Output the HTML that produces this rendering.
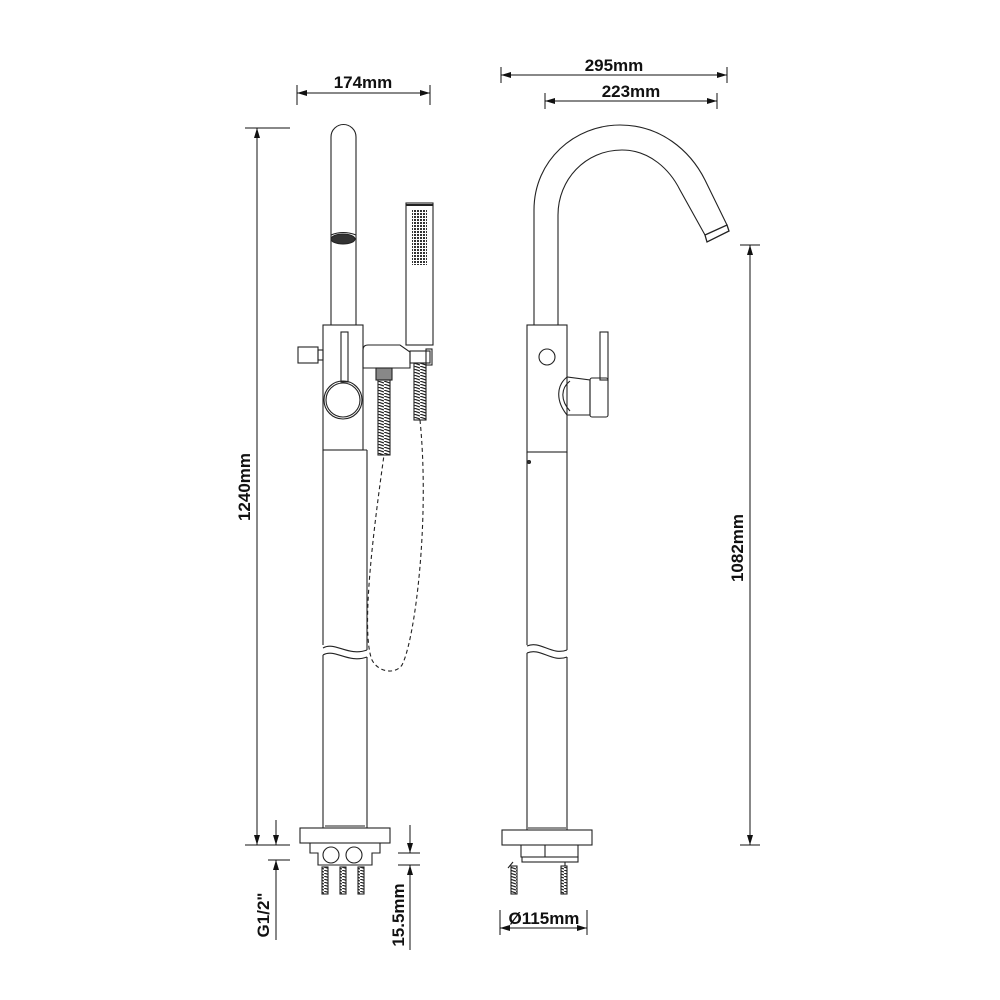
<!DOCTYPE html>
<html><head><meta charset="utf-8"><style>
html,body{margin:0;padding:0;background:#fff}
svg{display:block}
text{font-family:"Liberation Sans",Arial,sans-serif;font-size:17px;fill:#111;font-weight:600}
</style></head><body>
<svg width="1000" height="1000" viewBox="0 0 1000 1000" xmlns="http://www.w3.org/2000/svg">
<defs>
<marker id="a" viewBox="0 0 10 6" refX="10" refY="3" markerWidth="10" markerHeight="6" orient="auto-start-reverse" markerUnits="userSpaceOnUse"><path d="M0,0 L10,3 L0,6Z" fill="#111"/></marker>
<pattern id="dots" width="3" height="3" patternUnits="userSpaceOnUse"><rect width="2" height="2" fill="#333"/></pattern>
<pattern id="thr" width="6" height="3" patternUnits="userSpaceOnUse"><path d="M0,0 L6,2" stroke="#222" stroke-width="1.2"/></pattern>
</defs>
<g fill="none" stroke="#222" stroke-width="1.1">
<!-- LEFT VIEW -->
<path d="M331,325 V137 A12.5,12.5 0 0 1 356,137 V325"/>
<ellipse cx="343" cy="239" rx="12" ry="5" fill="#333"/>
<path d="M331,235 Q343,230 356,235"/>
<rect x="323" y="325" width="40" height="125"/>
<rect x="298" y="347" width="20" height="16"/><rect x="318" y="350" width="5" height="10"/>
<rect x="341" y="332" width="7" height="50"/>
<circle cx="343" cy="400" r="19"/><circle cx="343" cy="400" r="17"/>
<rect x="406" y="203" width="27" height="142"/><line x1="406" y1="205" x2="433" y2="205" stroke-width="2"/>
<rect x="412" y="210" width="15" height="55" fill="url(#dots)" stroke="none"/>
<path d="M363,350 Q363,345 368,345 H400 L410,352 V368 H363Z"/>
<rect x="410" y="351" width="20" height="12"/><rect x="426" y="349" width="6" height="16"/>
<rect x="376" y="368" width="16" height="12" fill="#888"/>
<rect x="378" y="380" width="12" height="75" fill="url(#thr)"/>
<rect x="414" y="363" width="12" height="57" fill="url(#thr)"/>
<path d="M420,420 C430,520 415,640 402,665 C395,675 378,672 372,660 C360,630 375,520 384,455" stroke-dasharray="4,3"/>
<path d="M323,450 H367 M323,450 V645 M367,450 V650 M323,648 C335,641 348,657 367,650 M323,655 C335,648 348,664 367,657 M323,655 V828 M367,657 V828"/>
<line x1="325" y1="826" x2="365" y2="826"/>
<rect x="300" y="828" width="90" height="15"/>
<path d="M310,843 V853 H318 V865 H372 V853 H380 V843"/>
<circle cx="331" cy="855" r="8"/><circle cx="354" cy="855" r="8"/>
<g fill="url(#thr)"><rect x="322" y="867" width="6" height="27"/><rect x="340" y="867" width="6" height="27"/><rect x="358" y="867" width="6" height="27"/></g>
<!-- RIGHT VIEW -->
<path d="M534,325 V210 C534,160 575,125 620,125 C660,125 690,150 705,180 L727,225"/>
<path d="M558,325 V215 C558,180 585,150 622,150 C650,150 670,170 680,190 L705,235"/>
<path d="M705,235 L727,225 L729,231 L707,242Z" stroke-width="1.3"/>
<rect x="527" y="325" width="40" height="127"/>
<circle cx="547" cy="357" r="8"/>
<rect x="600" y="332" width="8" height="48"/>
<path d="M567,377 C557,385 555,400 567,415 L590,415 V380 L567,377Z"/>
<path d="M570,381 C561,388 560,400 570,411"/>
<rect x="590" y="378" width="18" height="39" rx="2"/>
<path d="M527,452 H567 M527,452 V645 M567,452 V650 M527,646 C540,640 552,656 567,650 M527,653 C540,647 552,663 567,657 M527,653 V830 M567,657 V830"/>
<circle cx="529" cy="462" r="1.5" fill="#333"/>
<line x1="528" y1="828" x2="566" y2="828"/>
<rect x="502" y="830" width="90" height="15"/>
<path d="M521,845 V857 H578 V845 M545,845 V857"/>
<rect x="522" y="857" width="56" height="5"/>
<g fill="url(#thr)"><rect x="511" y="866" width="6" height="28"/><rect x="561" y="866" width="6" height="28"/></g>
<path d="M513,862 l-5,6 M565,862 v4"/>
</g>
<!-- DIMENSIONS -->
<g stroke="#111" stroke-width="1" fill="none">
<path d="M297,85 V105 M430,85 V105"/><line x1="297" y1="93" x2="430" y2="93" marker-start="url(#a)" marker-end="url(#a)"/>
<path d="M245,128 H290 M245,845 H290"/><line x1="257" y1="128" x2="257" y2="845" marker-start="url(#a)" marker-end="url(#a)"/>
<path d="M268,845 H290 M268,860 H290"/><line x1="276" y1="820" x2="276" y2="845" marker-end="url(#a)"/><line x1="276" y1="940" x2="276" y2="860" marker-end="url(#a)"/>
<path d="M398,853 H420 M398,865 H420"/><line x1="410" y1="825" x2="410" y2="853" marker-end="url(#a)"/><line x1="410" y1="950" x2="410" y2="865" marker-end="url(#a)"/>
<path d="M501,67 V83 M727,67 V83"/><line x1="501" y1="75" x2="727" y2="75" marker-start="url(#a)" marker-end="url(#a)"/>
<path d="M545,93 V109 M717,93 V109"/><line x1="545" y1="101" x2="717" y2="101" marker-start="url(#a)" marker-end="url(#a)"/>
<path d="M740,245 H760 M740,845 H760"/><line x1="750" y1="245" x2="750" y2="845" marker-start="url(#a)" marker-end="url(#a)"/>
<path d="M500,910 V935 M587,910 V935"/><line x1="500" y1="928" x2="587" y2="928" marker-start="url(#a)" marker-end="url(#a)"/>
</g>
<text x="363" y="88" text-anchor="middle">174mm</text>
<text x="614" y="71" text-anchor="middle">295mm</text>
<text x="631" y="97" text-anchor="middle">223mm</text>
<text x="544" y="924" text-anchor="middle">Ø115mm</text>
<text transform="translate(250,487) rotate(-90)" text-anchor="middle">1240mm</text>
<text transform="translate(269,915) rotate(-90)" text-anchor="middle">G1/2"</text>
<text transform="translate(404,915) rotate(-90)" text-anchor="middle">15.5mm</text>
<text transform="translate(743,548) rotate(-90)" text-anchor="middle">1082mm</text>
</svg>
</body></html>
